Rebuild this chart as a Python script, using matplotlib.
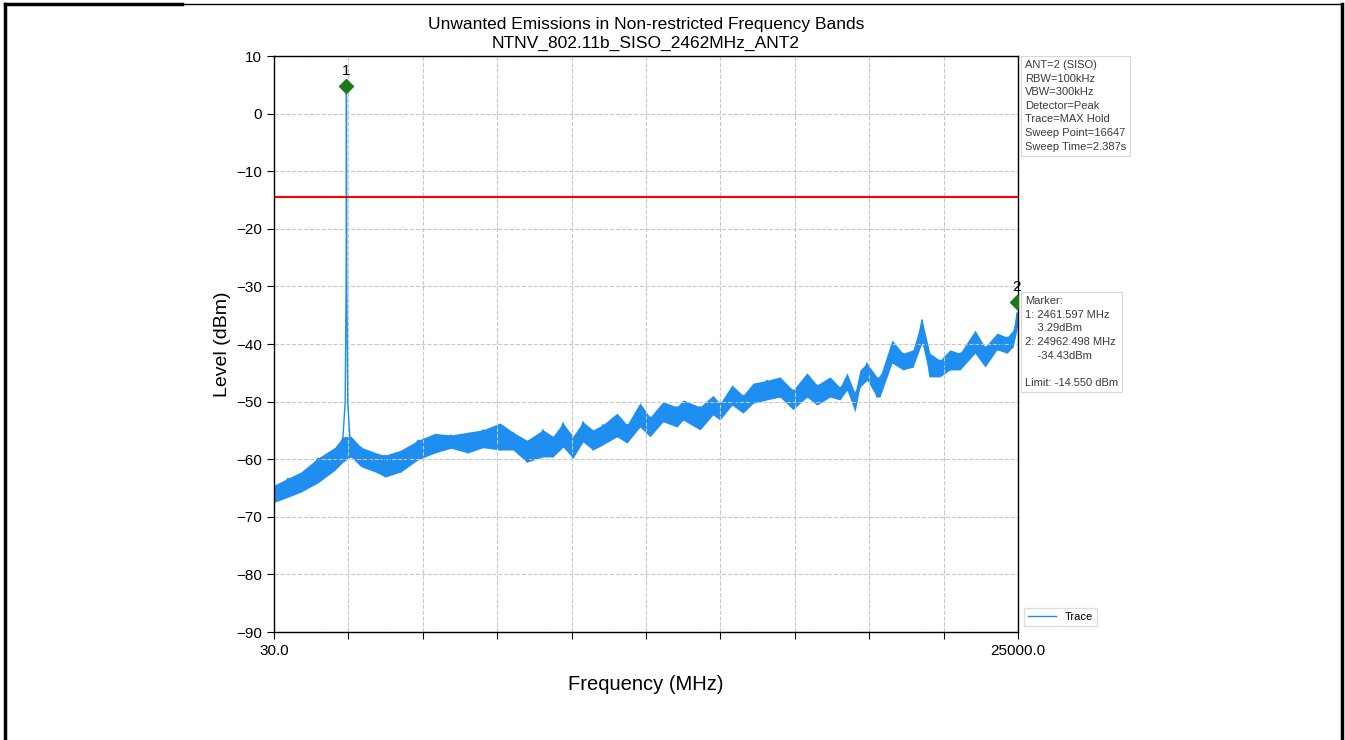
import numpy as np
import matplotlib.pyplot as plt
from matplotlib.lines import Line2D

plt.rcParams['font.family'] = ['Liberation Sans', 'DejaVu Sans']

# trace envelope (MHz, dBm)
freq = [30, 500, 936, 1507, 2077, 2346, 2614, 2950, 3520, 3755, 4292, 4863,
        5433, 5970, 6541, 7044, 7615, 8051, 8521, 9058, 9393, 9729, 10064,
        10400, 10736, 11071, 11541, 11877, 12313, 12649, 13085, 13555, 13756,
        14327, 14763, 14998, 15401, 15770, 16105, 16575, 17011, 17448, 17917,
        18253, 18689, 19025, 19260, 19528, 19696, 19931, 20267, 20367, 20770,
        21139, 21475, 21777, 22045, 22381, 22716, 23052, 23556, 23892, 24294,
        24630, 24831, 24965, 25000]
low = [-67.5, -66.6, -65.7, -64.1, -61.9, -60.5, -59.6, -61.3, -62.4, -63.1,
       -62.2, -60.1, -58.9, -58.1, -58.9, -58.0, -58.4, -58.4, -60.5, -59.6,
       -59.6, -57.9, -59.8, -57.0, -58.4, -57.5, -56.1, -57.2, -54.4, -56.1,
       -53.5, -54.4, -53.2, -54.9, -52.3, -53.2, -50.6, -52.0, -50.3, -49.7,
       -49.2, -51.4, -49.2, -50.6, -49.2, -49.7, -48.0, -51.8, -47.5, -46.3,
       -49.2, -49.2, -43.3, -44.5, -44.0, -39.8, -45.7, -45.7, -44.5, -44.5,
       -41.6, -44.0, -41.0, -41.6, -40.5, -37.6, -36.0]
high = [-64.5, -63.3, -62.2, -59.8, -57.9, -56.1, -56.0, -57.9, -59.0, -59.3,
        -58.4, -56.7, -55.5, -55.8, -55.3, -54.9, -53.7, -55.3, -56.7, -54.9,
        -56.0, -53.7, -56.0, -53.5, -54.9, -54.0, -52.0, -54.0, -50.2, -52.7,
        -50.0, -50.9, -49.7, -50.9, -48.9, -50.3, -47.1, -48.9, -46.8, -46.3,
        -45.7, -48.0, -45.0, -47.1, -45.7, -47.5, -45.0, -48.5, -44.5, -43.3,
        -45.7, -45.7, -39.3, -41.6, -41.0, -35.8, -41.6, -42.8, -41.0, -41.6,
        -37.6, -40.5, -38.1, -38.8, -37.6, -34.6, -33.0]

# carrier spike
peak_freq = [2420, 2450, 2461.6, 2475, 2505]
peak_lvl = [-50, -30, 5.0, -30, -50]

limit = -14.55
mark_freq = [2461.597, 24962.498]
mark_lvl = [4.8, -32.7]
mark_names = ['1', '2']

info = ("ANT=2 (SISO)\nRBW=100kHz\nVBW=300kHz\nDetector=Peak\n"
        "Trace=MAX Hold\nSweep Point=16647\nSweep Time=2.387s")
marker_txt = ("Marker:\n1: 2461.597 MHz\n    3.29dBm\n2: 24962.498 MHz\n"
              "    -34.43dBm\n\nLimit: -14.550 dBm")

# zigzag through the envelope readings, with the carrier spliced in
tx, ty = [], []
for i, f in enumerate(freq):
    tx.append(f)
    ty.append(low[i] if i % 2 == 0 else high[i])
tx += peak_freq
ty += peak_lvl
order = np.argsort(tx)
tx = np.array(tx)[order]
ty = np.array(ty)[order]

blue = '#1e8ff0'
fig = plt.figure(figsize=(13.45, 7.4), dpi=100)
ax = fig.add_axes([0.2037, 0.1459, 0.5532, 0.7784])

ax.fill_between(freq, low, high, color=blue, lw=0)
ax.plot(tx, ty, color=blue, lw=1, label='Trace')
ax.axhline(limit, color='red', lw=1.5)
ax.plot(mark_freq, mark_lvl, 'D', color='#1a7a1a', ms=7, zorder=5)
for f, l, n in zip(mark_freq, mark_lvl, mark_names):
    ax.text(f, l + 1.3, n, ha='center', va='bottom', fontsize=11, zorder=6)

ax.set_xlim(30, 25000)
ax.set_ylim(-90, 10)
xt = np.linspace(30, 25000, 11)
ax.set_xticks(xt)
ax.set_xticklabels(['30.0'] + [''] * 9 + ['25000.0'], fontsize=11)
ax.set_yticks(np.arange(-90, 11, 10))
ax.tick_params(axis='y', labelsize=11)
ax.tick_params(length=5)
ax.grid(True, ls='--', color='#c8c8c8', lw=0.8)
for s in ax.spines.values():
    s.set_color('black')
    s.set_linewidth(1)

ax.set_xlabel('Frequency (MHz)', fontsize=14.5, labelpad=12)
ax.set_ylabel('Level (dBm)', fontsize=14)
ax.set_title('Unwanted Emissions in Non-restricted Frequency Bands\n'
             'NTNV_802.11b_SISO_2462MHz_ANT2', fontsize=12.5, pad=6,
             linespacing=1.3)

box = dict(boxstyle='square,pad=0.35', fc='white', ec='#d8d8d8', lw=0.8)
ax.text(1.009, 0.993, info, transform=ax.transAxes, va='top', ha='left',
        fontsize=8, color='#3a3a3a', bbox=box, linespacing=1.45)
ax.text(1.009, 0.583, marker_txt, transform=ax.transAxes, va='top', ha='left',
        fontsize=8, color='#3a3a3a', bbox=box, linespacing=1.45)
ax.legend(loc='lower left', bbox_to_anchor=(1.0, 0.0), fontsize=8,
          frameon=True, edgecolor='#d8d8d8', fancybox=False, handlelength=2.5)

# page frame around the embedded picture
W, H = 1345, 740
fig.add_artist(Line2D([5 / W, 5 / W], [0, 1 - 4 / H], color='black', lw=2.5))
fig.add_artist(Line2D([1342 / W, 1342 / W], [0, 1 - 4 / H], color='black', lw=2.5))
fig.add_artist(Line2D([5 / W, 182 / W], [1 - 4 / H, 1 - 4 / H], color='black', lw=2.5))
fig.add_artist(Line2D([182 / W, 1342 / W], [1 - 4 / H, 1 - 4 / H], color='black', lw=1))

fig.savefig('out.png', dpi=100)
